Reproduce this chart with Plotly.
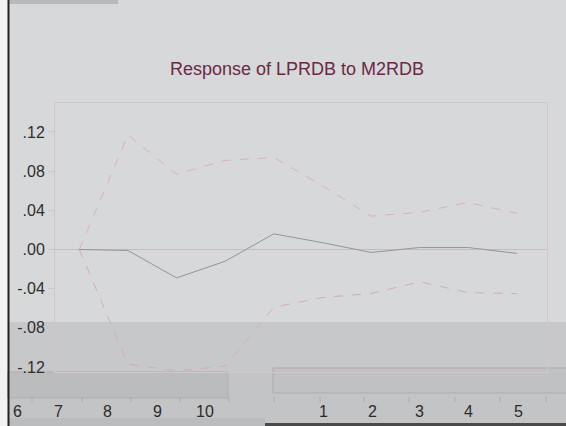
import plotly.graph_objects as go

periods = [1, 2, 3, 4, 5, 6, 7, 8, 9, 10]
response = [0.000, -0.001, -0.029, -0.012, 0.016, 0.007, -0.003, 0.002, 0.002, -0.004]
upper = [0.000, 0.117, 0.077, 0.091, 0.094, 0.065, 0.034, 0.038, 0.048, 0.037]
lower = [0.000, -0.117, -0.124, -0.119, -0.059, -0.049, -0.045, -0.033, -0.044, -0.045]

y_ticks = [0.12, 0.08, 0.04, 0.00, -0.04, -0.08, -0.12]
y_tick_text = [".12", ".08", ".04", ".00", "-.04", "-.08", "-.12"]

x_label_text = ["6", "7", "8", "9", "10", "1", "2", "3", "4", "5"]

title_text = "Response of LPRDB to M2RDB"

W, H = 566, 426
L, R, T, B = 55, 19, 103, 54
PW, PH = W - L - R, H - T - B


def fx(p):
    """screen pixel x -> paper x"""
    return (p - L) / PW


def fy(p):
    """screen pixel y -> paper y"""
    return (H - B - p) / PH


FONT = "Liberation Sans, Arial"
FRAME = "#d2c5cc"

fig = go.Figure()

fig.add_trace(go.Scatter(x=periods, y=upper, mode="lines",
                         line=dict(color="#dcb0ba", width=1, dash="dash"),
                         showlegend=False, cliponaxis=False))
fig.add_trace(go.Scatter(x=periods, y=lower, mode="lines",
                         line=dict(color="#d4acb5", width=1, dash="dash"),
                         showlegend=False, cliponaxis=False))
fig.add_trace(go.Scatter(x=periods, y=response, mode="lines",
                         line=dict(color="#959595", width=1),
                         showlegend=False, cliponaxis=False))

shapes = [
    # white strip on the far left
    dict(type="rect", xref="paper", yref="paper", x0=fx(0), x1=fx(8),
         y0=fy(H), y1=fy(0), fillcolor="#f2f2f2", line_width=0, layer="below"),
    # top dark strip
    dict(type="rect", xref="paper", yref="paper", x0=fx(8), x1=fx(118),
         y0=fy(4), y1=fy(0), fillcolor="#b9b9bb", line_width=0, layer="below"),
    # background bands
    dict(type="rect", xref="paper", yref="paper", x0=fx(8), x1=fx(W),
         y0=fy(372), y1=fy(322), fillcolor="#c7c8ca", line_width=0, layer="below"),
    dict(type="rect", xref="paper", yref="paper", x0=fx(8), x1=fx(W),
         y0=fy(H), y1=fy(372), fillcolor="#c3c4c6", line_width=0, layer="below"),
    dict(type="rect", xref="paper", yref="paper", x0=fx(8), x1=fx(228),
         y0=fy(398), y1=fy(372), fillcolor="#bbbcbe",
         line=dict(color="#aeafb1", width=1), layer="below"),
    dict(type="rect", xref="paper", yref="paper", x0=fx(273), x1=fx(W + 5),
         y0=fy(393), y1=fy(368), fillcolor="#c0c1c3",
         line=dict(color="#abacae", width=1), layer="below"),
    dict(type="rect", xref="paper", yref="paper", x0=fx(8), x1=fx(265),
         y0=fy(H), y1=fy(418), fillcolor="#bbbcbe", line_width=0, layer="below"),
    dict(type="rect", xref="paper", yref="paper", x0=fx(265), x1=fx(W),
         y0=fy(H), y1=fy(423), fillcolor="#4a4a4a", line_width=0, layer="below"),
    # zero line
    dict(type="line", xref="paper", yref="y", x0=0, x1=1, y0=0, y1=0,
         line=dict(color="#cdb9c2", width=1), layer="below"),
    # left border
    dict(type="line", xref="paper", yref="paper", x0=fx(8.5), x1=fx(8.5),
         y0=fy(H), y1=fy(0), line=dict(color="#222222", width=2)),
]
# small tick marks along the bottom strip
for tp in [32, 82, 131, 180, 229, 274, 320, 364, 409, 455, 500, 546]:
    shapes.append(dict(type="line", xref="paper", yref="paper", x0=fx(tp), x1=fx(tp),
                       y0=fy(402), y1=fy(397), line=dict(color="#a9aaac", width=1)))

annotations = [dict(text=title_text, xref="paper", yref="paper",
                    x=fx(297), y=fy(69), showarrow=False,
                    xanchor="center", yanchor="middle",
                    font=dict(family=FONT, size=18, color="#6a2946"))]

label_px = [17, 58, 107, 157, 205, 323, 372, 419, 468, 518]
for xp, txt in zip(label_px, x_label_text):
    annotations.append(dict(text=txt, x=fx(xp), xref="paper", yref="paper",
                            y=fy(411), showarrow=False,
                            xanchor="center", yanchor="middle",
                            font=dict(family=FONT, size=16, color="#2b2b2b")))

fig.update_layout(
    width=W, height=H,
    margin=dict(l=L, r=R, t=T, b=B, autoexpand=False),
    paper_bgcolor="#d7d8da",
    plot_bgcolor="rgba(0,0,0,0)",
    shapes=shapes,
    annotations=annotations,
    xaxis=dict(range=[0.5, 10.62], showgrid=False, zeroline=False,
               showticklabels=False, ticks="", automargin=False,
               showline=True, linecolor=FRAME, mirror=True),
    yaxis=dict(range=[-0.1251, 0.1496], showgrid=False, zeroline=False,
               tickvals=y_ticks, ticktext=y_tick_text, automargin=False,
               ticks="outside", ticklen=6, tickcolor=FRAME,
               tickfont=dict(family=FONT, size=16, color="#2e2e2e"),
               showline=True, linecolor=FRAME, mirror=True),
    showlegend=False,
)

fig.write_html("out.html",
               config={"displayModeBar": False},
               post_script="document.body.style.margin='0';document.body.style.overflow='hidden';")
